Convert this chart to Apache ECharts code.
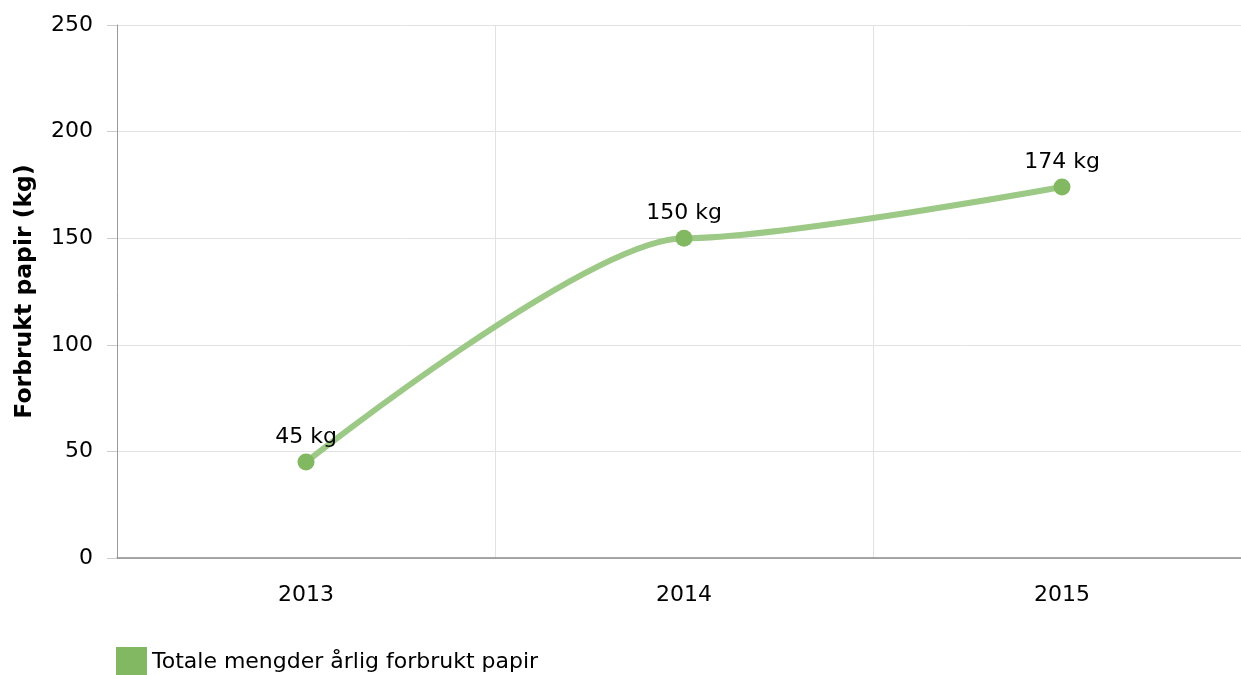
<!DOCTYPE html>
<html>
<head>
<meta charset="utf-8">
<script src="https://cdn.jsdelivr.net/npm/echarts@6/dist/echarts.min.js"></script>
<style>
  html, body { margin: 0; padding: 0; background: #fff; overflow: hidden; }
  /* plot area runs a little past the right edge of the window, as in the original */
  #chart { width: 1251px; height: 675px; }
</style>
</head>
<body>
<div id="chart"></div>
<script>
// yearly paper use, one series
const years = ['2013', '2014', '2015'];
const paperKg = [45, 150, 174];
const seriesName = 'Totale mengder årlig forbrukt papir';
const yTicks = [0, 50, 100, 150, 200, 250];

const FONT = '"DejaVu Sans", Verdana, sans-serif';
const chart = echarts.init(document.getElementById('chart'));

chart.setOption({
  animation: false,
  textStyle: { fontFamily: FONT },
  grid: { left: 117, right: 0, top: 25, bottom: 117, outerBoundsMode: 'none' },
  legend: {
    left: 111, top: 642, padding: 5,
    icon: 'rect', itemWidth: 31, itemHeight: 30, itemGap: 8,
    textStyle: { fontSize: 22, color: '#000', fontFamily: FONT },
    data: [seriesName],
  },
  xAxis: {
    type: 'category',
    data: years,
    axisLine: { lineStyle: { color: '#8c8c8c', width: 1.5 } },
    axisTick: { alignWithLabel: true, length: 10, lineStyle: { color: '#aaa' } },
    axisLabel: { fontSize: 22, color: '#000', margin: 26 },
    splitLine: { show: true, lineStyle: { color: '#e2e2e2' } },
  },
  yAxis: {
    type: 'value',
    min: yTicks[0], max: yTicks[yTicks.length - 1], interval: yTicks[1] - yTicks[0],
    name: 'Forbrukt papir (kg)',
    nameLocation: 'middle',
    nameGap: 80,
    nameTextStyle: { fontSize: 23.5, fontWeight: 'bold', color: '#000' },
    axisLine: { show: true, lineStyle: { color: '#999' } },
    axisTick: { show: true, length: 10, lineStyle: { color: '#ccc' } },
    axisLabel: { fontSize: 22, color: '#000', margin: 24 },
    splitLine: { lineStyle: { color: '#e2e2e2' } },
  },
  series: [{
    name: seriesName,
    type: 'line',
    data: paperKg,
    smooth: 0.25,
    smoothMonotone: 'x',
    symbol: 'circle',
    symbolSize: 17,
    itemStyle: { color: '#82b862' },
    lineStyle: { color: '#9cc985', width: 6 },
    label: {
      show: true, position: 'top', distance: 5,
      fontSize: 22, color: '#000',
      formatter: p => p.value + ' kg',
    },
  }],
});
</script>
</body>
</html>
